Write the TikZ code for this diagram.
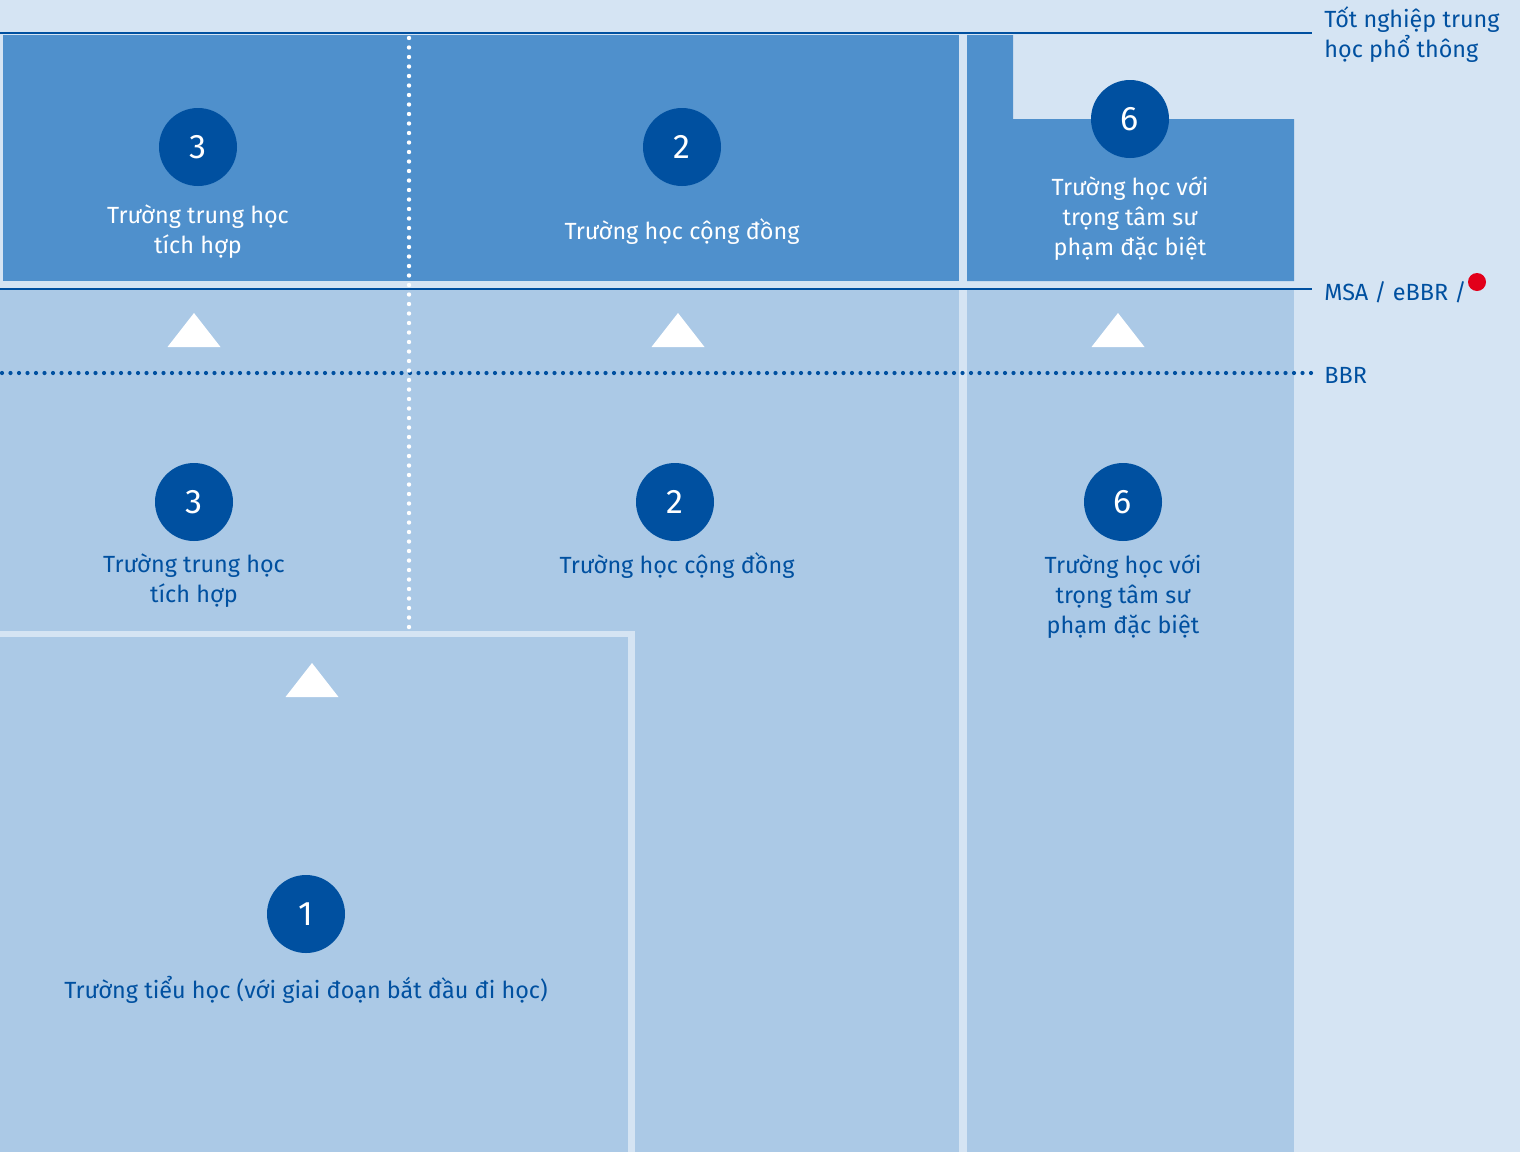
\documentclass[tikz,border=0pt]{standalone}
\usepackage{fontspec}
\setmainfont{Fira Sans}
\definecolor{bg}{HTML}{D5E4F3}
\definecolor{mid}{HTML}{4F90CC}
\definecolor{lt}{HTML}{ABC9E6}
\definecolor{dk}{HTML}{0050A0}
\definecolor{rd}{HTML}{E2001A}
\tikzset{
  num/.style={circle, fill=dk, text=white, minimum size=39pt, inner sep=0pt, font=\fontsize{17}{17}\selectfont},
  lbl/.style={align=center, inner sep=0pt, font=\fontsize{11.7}{15}\selectfont},
  wlbl/.style={lbl, text=white},
  blbl/.style={lbl, text=dk},
  side/.style={align=left, anchor=west, inner sep=0pt, text=dk, font=\fontsize{11.7}{15}\selectfont},
  uptri/.pic={\fill[white] (-26.5,17) -- (0,-17) -- (26.5,17) -- cycle;}
}
\begin{document}
\begin{tikzpicture}[x=0.5pt,y=-0.5pt]
\fill[bg] (0,0) rectangle (1520,1152);
\useasboundingbox (0,0) rectangle (1520,1152);
% lower light areas
\fill[lt] (0,290) rectangle (959,1152);
\fill[lt] (967,290) rectangle (1294,1152);
% frame of primary-school box
\fill[bg] (0,631) rectangle (635,637);
\fill[bg] (628,631) rectangle (635,1152);
% upper boxes
\fill[mid] (3,35) rectangle (959,281);
\fill[mid] (967,35) -- (1013,35) -- (1013,119) -- (1294,119) -- (1294,281) -- (967,281) -- cycle;
% level lines
\coordinate (t0) at (0,33); \coordinate (t1) at (1312,33);
\coordinate (m0) at (0,289); \coordinate (m1) at (1312,289);
\coordinate (b0) at (2,373); \coordinate (b1) at (1312,373);
\coordinate (v0) at (409,38); \coordinate (v1) at (409,630);
\draw[dk, line width=1.1pt] (t0) -- (t1);
\draw[dk, line width=1.1pt] (m0) -- (m1);
\draw[dk, line width=2.1pt, line cap=round, dash pattern=on 0pt off 4.25pt] (b0) -- (b1);
\draw[white, line width=2.2pt, line cap=round, dash pattern=on 0pt off 4.75pt] (v0) -- (v1);
% triangles
\pic at (194,330) {uptri};
\pic at (678,330) {uptri};
\pic at (1118,330) {uptri};
\pic at (312,680) {uptri};
% circles
\node[num] (n3a) at (198,147) {3};
\node[num] (n2a) at (682,147) {2};
\node[num] (n6a) at (1130,119) {6};
\node[num] (n3b) at (194,502) {3};
\node[num] (n2b) at (675,502) {2};
\node[num] (n6b) at (1123,502) {6};
\node[num] (n1) at (306,914) {1};
% labels
\node[wlbl] (l3a) at (198,232) {Trường trung học\\tích hợp};
\node[wlbl] (l2a) at (682,232) {Trường học cộng đồng};
\node[wlbl] (l6a) at (1130,219) {Trường học với\\trọng tâm sư\\phạm đặc biệt};
\node[blbl] (l3b) at (194,581) {Trường trung học\\tích hợp};
\node[blbl] (l2b) at (677,566) {Trường học cộng đồng};
\node[blbl] (l6b) at (1123,597) {Trường học với\\trọng tâm sư\\phạm đặc biệt};
\node[blbl] (l1) at (306,990) {Trường tiểu học (với giai đoạn bắt đầu đi học)};
% side labels
\node[side] (s1) at (1324,35) {Tốt nghiệp trung\\học phổ thông};
\node[side] (s2) at (1324,292) {MSA / eBBR /};
\node[circle, fill=rd, minimum size=9pt, inner sep=0pt] (dot) at (1477,282) {};
\node[side] (s3) at (1324,375) {BBR};
\end{tikzpicture}
\end{document}
